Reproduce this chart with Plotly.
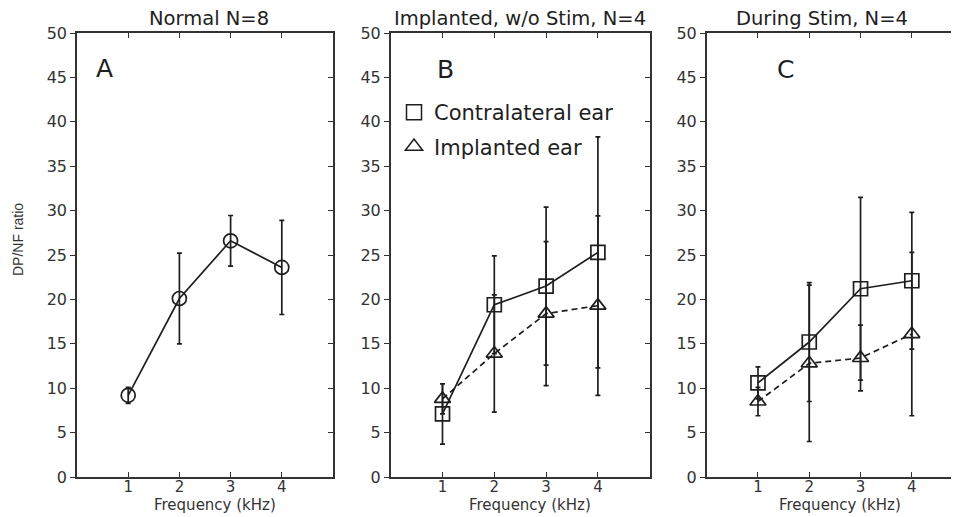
import plotly.graph_objects as go

# ---- data ----
freq = [1, 2, 3, 4]
y_ticks = [0, 5, 10, 15, 20, 25, 30, 35, 40, 45, 50]

normal_mean = [9.2, 20.1, 26.6, 23.6]
normal_err = [0.9, 5.1, 2.85, 5.3]

b_contra_mean = [7.1, 19.4, 21.5, 25.3]
b_contra_err = [3.4, 5.5, 8.9, 13.0]
b_impl_mean = [8.8, 13.9, 18.4, 19.3]
b_impl_err = [1.7, 6.6, 8.1, 10.1]

c_contra_mean = [10.6, 15.2, 21.2, 22.1]
c_contra_err = [1.8, 6.7, 10.3, 7.7]
c_impl_mean = [8.5, 12.8, 13.4, 16.1]
c_impl_err = [1.6, 8.8, 3.7, 9.2]

panel_titles = ["Normal N=8", "Implanted, w/o Stim, N=4", "During Stim, N=4"]
panel_letters = ["A", "B", "C"]
legend_names = ["Contralateral ear", "Implanted ear"]
x_title = "Frequency (kHz)"
y_title = "DP/NF ratio"

# ---- styling / layout ----
OFF = 8  # page body margin
W, H = 959 - OFF, 517 - OFF
INK = "#1e1e1e"
AX = "#333333"
FONT = "DejaVu Sans"


def px_x(p):
    return (p - OFF) / W


def px_y(p):
    return 1 - (p - OFF) / H


x_domains = [[px_x(77), px_x(333)], [px_x(390.7), px_x(649.7)], [px_x(706.7), 1.0]]
x_ranges = [[0, 5], [0, 5], [0, 4.92]]
y_domain = [px_y(477), px_y(33)]

fig = go.Figure()


def series(mean, err, symbol, dash, xa, ya):
    fig.add_trace(go.Scatter(
        x=freq, y=mean, mode="lines+markers", xaxis=xa, yaxis=ya,
        line=dict(color=INK, width=1.7, dash=dash),
        marker=dict(symbol=symbol, size=14, color=INK, line=dict(color=INK, width=1.7)),
        error_y=dict(type="data", array=err, visible=True, color=INK, thickness=1.7, width=2.5),
        showlegend=False, hoverinfo="x+y",
    ))


series(normal_mean, normal_err, "circle-open", "solid", "x", "y")
series(b_impl_mean, b_impl_err, "triangle-up-open", "6px,4px", "x2", "y2")
series(b_contra_mean, b_contra_err, "square-open", "solid", "x2", "y2")
series(c_impl_mean, c_impl_err, "triangle-up-open", "6px,4px", "x3", "y3")
series(c_contra_mean, c_contra_err, "square-open", "solid", "x3", "y3")

# legend-only entries (panel B legend)
for name, sym, grp in [(legend_names[0], "square-open", "g1"), (legend_names[1], "triangle-up-open", "g2")]:
    fig.add_trace(go.Scatter(
        x=[None], y=[None], mode="markers", name=name, xaxis="x2", yaxis="y2",
        legendgroup=grp,
        marker=dict(symbol=sym, size=15, color=INK, line=dict(color=INK, width=1.5)),
    ))

# placeholder traces so the right-side tick axes render
for xa, ya in [("x", "y4"), ("x2", "y5"), ("x3", "y6")]:
    fig.add_trace(go.Scatter(x=[None], y=[None], xaxis=xa, yaxis=ya, showlegend=False, hoverinfo="skip"))

layout = dict(
    width=W, height=H,
    margin=dict(l=0, r=0, t=0, b=0, pad=0, autoexpand=False),
    paper_bgcolor="white", plot_bgcolor="white",
    font=dict(family=FONT, color=AX, size=14),
    showlegend=True,
    legend=dict(x=px_x(394), y=px_y(92), xanchor="left", yanchor="top",
                font=dict(family=FONT, size=21, color=INK),
                bgcolor="rgba(0,0,0,0)", borderwidth=0,
                traceorder="grouped", tracegroupgap=4, itemwidth=30),
)

for i in range(3):
    sx = "" if i == 0 else str(i + 1)
    layout["xaxis" + sx] = dict(
        domain=x_domains[i], range=x_ranges[i], anchor="y" + sx, automargin=False,
        tickvals=freq, ticks="inside", ticklen=5, tickwidth=1.3, tickcolor=AX,
        showline=True, linecolor=AX, linewidth=1.5, mirror="ticks",
        showgrid=False, zeroline=False, ticklabelstandoff=-5,
        tickfont=dict(family=FONT, size=15, color=AX),
    )
    layout["yaxis" + sx] = dict(
        domain=y_domain, range=[0, 50], anchor="x" + sx, automargin=False,
        tickvals=y_ticks, ticks="outside", ticklen=5, tickwidth=1.3, tickcolor=AX,
        showline=True, linecolor=AX, linewidth=1.5, mirror=False,
        showgrid=False, zeroline=False,
        tickfont=dict(family=FONT, size=16, color=AX),
    )
    # right-side axis with inward ticks
    layout["yaxis" + str(i + 4)] = dict(
        overlaying="y" + sx, side="right", anchor="x" + sx, range=[0, 50], automargin=False,
        tickvals=y_ticks, ticks="inside", ticklen=5, tickwidth=1.3, tickcolor=AX,
        showline=(i < 2), linecolor=AX, linewidth=1.5,
        showticklabels=False, showgrid=False, zeroline=False,
    )

annotations = []
title_x = [209, 520, 822]
letter_pos = [(104, 68), (445, 70), (785, 70)]
xtitle_x = [215, 530, 840]
for i in range(3):
    annotations.append(dict(text=panel_titles[i], x=px_x(title_x[i]), y=px_y(19), xref="paper", yref="paper",
                            showarrow=False, xanchor="center", yanchor="middle",
                            font=dict(family=FONT, size=19.5, color=INK)))
    annotations.append(dict(text=panel_letters[i], x=px_x(letter_pos[i][0]), y=px_y(letter_pos[i][1]),
                            xref="paper", yref="paper", showarrow=False, xanchor="center", yanchor="middle",
                            font=dict(family=FONT, size=25, color=INK)))
    annotations.append(dict(text=x_title, x=px_x(xtitle_x[i]), y=px_y(505), xref="paper", yref="paper",
                            showarrow=False, xanchor="center", yanchor="middle",
                            font=dict(family=FONT, size=15, color=AX)))
annotations.append(dict(text=y_title, x=px_x(18), y=px_y(240), xref="paper", yref="paper", textangle=-90,
                        showarrow=False, xanchor="center", yanchor="middle",
                        font=dict(family="Liberation Sans", size=14, color=AX)))
layout["annotations"] = annotations

fig.update_layout(**layout)
fig.write_html("out.html")
